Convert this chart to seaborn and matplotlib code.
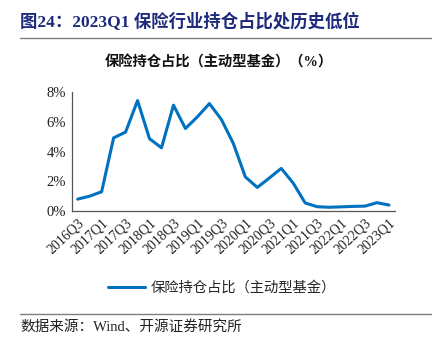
import numpy as np
import pandas as pd
import matplotlib
matplotlib.use("Agg")
import matplotlib.pyplot as plt
import seaborn as sns
from matplotlib.lines import Line2D

quarters = ["2016Q3", "2016Q4", "2017Q1", "2017Q2", "2017Q3", "2017Q4", "2018Q1",
            "2018Q2", "2018Q3", "2018Q4", "2019Q1", "2019Q2", "2019Q3", "2019Q4",
            "2020Q1", "2020Q2", "2020Q3", "2020Q4", "2021Q1", "2021Q2", "2021Q3",
            "2021Q4", "2022Q1", "2022Q2", "2022Q3", "2022Q4", "2023Q1"]
share = [0.80, 1.00, 1.30, 4.93, 5.32, 7.44, 4.87, 4.26, 7.13, 5.56, 6.35, 7.24,
         6.17, 4.55, 2.30, 1.59, 2.22, 2.87, 1.88, 0.54, 0.29, 0.25, 0.28, 0.31,
         0.33, 0.56, 0.40]
y_ticks = [0, 2, 4, 6, 8]

title = "图24：2023Q1 保险行业持仓占比处历史低位"
chart_title = "保险持仓占比（主动型基金）（%）"
series_name = "保险持仓占比（主动型基金）"
source = "数据来源：Wind、开源证券研究所"

sns.set_theme(style="white")
fam = ["Liberation Serif", "Noto Sans CJK SC", "DejaVu Sans"]
plt.rcParams["font.family"] = fam

df = pd.DataFrame({"q": np.arange(len(quarters)), "v": share})

fig = plt.figure(figsize=(4.32, 3.46), dpi=100)
ax = fig.add_axes([71.7 / 432, (346 - 211) / 346, (395 - 71.7) / 432, (211 - 92.3) / 346])

sns.lineplot(data=df, x="q", y="v", ax=ax, color="#0070C0", linewidth=2.2, legend=False)

ax.set_xlim(-0.5, len(quarters) - 0.5)
ax.set_ylim(0, 8)
ax.set_yticks(y_ticks)
ax.set_yticklabels([f"{t}%" for t in y_ticks], fontsize=10.5, color="#222222")
ax.set_xticks(np.arange(0, len(quarters), 2))
ax.set_xticklabels(quarters[::2], rotation=43, ha="right", rotation_mode="anchor",
                   fontsize=10, color="#222222")
ax.set_xticks(np.arange(-0.5, len(quarters), 1), minor=True)
ax.tick_params(axis="x", which="major", length=0, pad=4)
ax.tick_params(axis="x", which="minor", direction="in", length=4, width=0.8, color="#555555")
ax.tick_params(axis="y", which="major", direction="in", length=3, width=0.8, color="#555555", pad=4)
ax.set_xlabel("")
ax.set_ylabel("")
for s in ["top", "right"]:
    ax.spines[s].set_visible(False)
for s in ["left", "bottom"]:
    ax.spines[s].set_color("#555555")
    ax.spines[s].set_linewidth(0.9)

fig.text(20 / 432, 1 - 22 / 346, title, fontsize=12.5, fontweight="bold",
         color="#1d2a7e", ha="left", va="center", family=fam)
fig.add_artist(Line2D([20 / 432, 1.0], [1 - 37.5 / 346] * 2, color="#7f7f7f", linewidth=1.0))
fig.text(219 / 432, 1 - 62 / 346, chart_title, fontsize=10.3, fontweight="bold",
         color="#111111", ha="center", va="center", family=fam)

handle = Line2D([], [], color="#0070C0", linewidth=2.2)
fig.legend([handle], [series_name], loc="center", bbox_to_anchor=(222 / 432, 1 - 288 / 346),
           frameon=False, handlelength=2.6, handletextpad=0.4,
           prop={"family": fam, "size": 10.3})

fig.add_artist(Line2D([20 / 432, 1.0], [1 - 314 / 346] * 2, color="#7f7f7f", linewidth=1.0))
fig.text(20 / 432, 1 - 327 / 346, source, fontsize=10.5, color="#222222",
         ha="left", va="center", family=fam)

fig.savefig("out.png", dpi=100)
